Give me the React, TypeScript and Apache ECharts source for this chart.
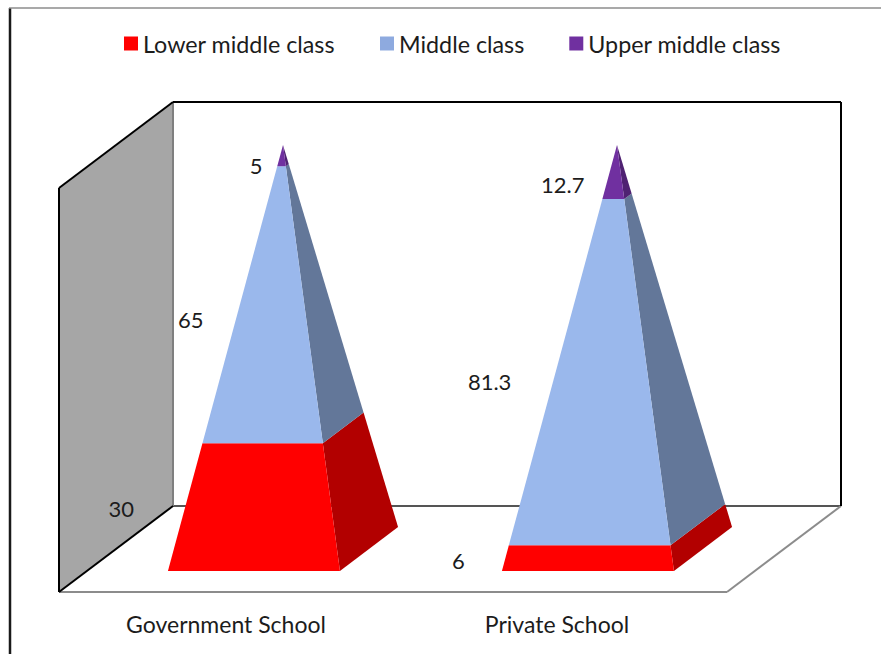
import React, { useEffect, useRef } from "react";
import * as echarts from "echarts";

const categories = ["Government School", "Private School"];
const lowerMiddle = [30, 6];
const middle = [65, 81.3];
const upperMiddle = [5, 12.7];

const FONT = "Lato, 'Open Sans', sans-serif";
const TEXT = "#1c1c1c";
const DEPTH_X = 114;
const DEPTH_Y = -86;
const BASE_HALF = 86;

type Api = any;

// pixel nudges of the value labels from the left edge of their segment: [dx, dy] by school
const lowerLabelNudge = [[-64, 1], [-47, 2]];
const middleLabelNudge = [[-49, 15], [-66, 9]];
const upperLabelNudge = [[-24, 10], [-47, 12]];

function lerp(a: number[], b: number[], t: number) {
  return [a[0] + (b[0] - a[0]) * t, a[1] + (b[1] - a[1]) * t];
}

function pyramidRenderer(front: string, side: string, nudges: number[][]) {
  return (_params: any, api: Api) => {
    const i = api.value(0);
    const start = api.value(1) / 100;
    const end = api.value(2) / 100;
    const base = api.coord([i, 0]);
    const top = api.coord([i, 100]);
    const offX = DEPTH_X * 0.245;
    const offY = DEPTH_Y * 0.245;
    const fl = [base[0] - BASE_HALF + offX, base[1] + offY];
    const fr = [base[0] + BASE_HALF + offX, base[1] + offY];
    const br = [fr[0] + DEPTH_X * 0.51, fr[1] + DEPTH_Y * 0.51];
    const apex = [top[0] + DEPTH_X / 2, top[1] + DEPTH_Y / 2];
    const mid = (start + end) / 2;
    const edge = lerp(fl, apex, mid);
    return {
      type: "group",
      children: [
        {
          type: "polygon",
          shape: { points: [lerp(fr, apex, start), lerp(br, apex, start), lerp(br, apex, end), lerp(fr, apex, end)] },
          style: { fill: side },
        },
        {
          type: "polygon",
          shape: { points: [lerp(fl, apex, start), lerp(fr, apex, start), lerp(fr, apex, end), lerp(fl, apex, end)] },
          style: { fill: front },
        },
        {
          type: "text",
          x: edge[0] + nudges[i][0],
          y: edge[1] + nudges[i][1],
          style: {
            text: String(Math.round((end - start) * 1000) / 10),
            font: `22px ${FONT}`,
            fill: TEXT,
            align: "center",
            verticalAlign: "middle",
          },
        },
      ],
    };
  };
}

function wallsRenderer(params: any) {
  const { x, y, width, height } = params.coordSys;
  const b = y + height;
  const r = x + width;
  const bx = x + DEPTH_X;
  const line = (x1: number, y1: number, x2: number, y2: number, stroke: string, lineWidth = 2) => ({
    type: "line",
    shape: { x1, y1, x2, y2 },
    style: { stroke, lineWidth },
  });
  return {
    type: "group",
    children: [
      {
        type: "polygon",
        shape: { points: [[x, y], [bx, y + DEPTH_Y], [bx, b + DEPTH_Y], [x, b]] },
        style: { fill: "#a6a6a6" },
      },
      line(bx, b + DEPTH_Y, r + DEPTH_X, b + DEPTH_Y, "#555555"),
      line(bx, y + DEPTH_Y, bx, b + DEPTH_Y, "#7f7f7f"),
      line(x, b, r, b, "#8c8c8c"),
      line(r, b, r + DEPTH_X, b + DEPTH_Y, "#8c8c8c"),
      line(x, y, x, b, "#000000"),
      line(x, y, bx, y + DEPTH_Y, "#000000"),
      line(x, b, bx, b + DEPTH_Y, "#000000"),
      line(bx, y + DEPTH_Y, r + DEPTH_X, y + DEPTH_Y, "#000000"),
      line(r + DEPTH_X, y + DEPTH_Y, r + DEPTH_X, b + DEPTH_Y, "#000000"),
    ],
  };
}

export default function App() {
  const ref = useRef<HTMLDivElement>(null);
  useEffect(() => {
    if (!ref.current) return;
    const chart = echarts.init(ref.current, undefined, { renderer: "svg" });
    const lowerData = categories.map((_, i) => [i, 0, lowerMiddle[i]]);
    const middleData = categories.map((_, i) => [i, lowerMiddle[i], lowerMiddle[i] + middle[i]]);
    const upperData = categories.map((_, i) => [
      i,
      lowerMiddle[i] + middle[i],
      lowerMiddle[i] + middle[i] + upperMiddle[i],
    ]);
    const custom = (name: string, color: string, side: string, nudges: number[][], data: number[][]) => ({
      type: "custom",
      name,
      coordinateSystem: "cartesian2d",
      silent: true,
      z: 3,
      itemStyle: { color },
      encode: { x: 0, y: [1, 2] },
      renderItem: pyramidRenderer(color, side, nudges),
      data,
    });
    chart.setOption({
      animation: false,
      backgroundColor: "#ffffff",
      graphic: [
        { type: "line", z: 0, shape: { x1: 10, y1: 8, x2: 10, y2: 654 }, style: { stroke: "#1a1a1a", lineWidth: 2.5 } },
        { type: "line", z: 0, shape: { x1: 9, y1: 8, x2: 881, y2: 8 }, style: { stroke: "#8c8c8c", lineWidth: 1.5 } },
      ],
      legend: {
        left: 119,
        top: 27,
        icon: "rect",
        itemWidth: 14,
        itemHeight: 14,
        itemGap: 45,
        selectedMode: false,
        textStyle: { fontFamily: FONT, fontSize: 23.3, color: TEXT },
        data: [
          { name: "Lower middle class" },
          { name: "Middle class", itemStyle: { color: "#8eaadf" } },
          { name: "Upper middle class" },
        ],
      },
      grid: { left: 59, right: 154, top: 188, bottom: 62, containLabel: false },
      xAxis: {
        type: "category",
        data: [categories[0], { value: categories[1], textStyle: { padding: [0, 6, 0, 0] } }],
        axisLine: { show: false },
        axisTick: { show: false },
        axisLabel: { fontFamily: FONT, fontSize: 23, color: TEXT, margin: 20 },
      },
      yAxis: { type: "value", min: 0, max: 100, show: false },
      series: [
        {
          type: "custom",
          name: "walls",
          coordinateSystem: "cartesian2d",
          silent: true,
          z: 1,
          renderItem: wallsRenderer,
          data: [[0, 0]],
        },
        custom("Lower middle class", "#ff0000", "#b20000", lowerLabelNudge, lowerData),
        custom("Middle class", "#9ab8ec", "#637799", middleLabelNudge, middleData),
        custom("Upper middle class", "#7030a0", "#4f2272", upperLabelNudge, upperData),
      ],
    });
    return () => chart.dispose();
  }, []);
  return <div ref={ref} style={{ position: "fixed", left: 0, top: 0, width: 881, height: 654 }} />;
}
